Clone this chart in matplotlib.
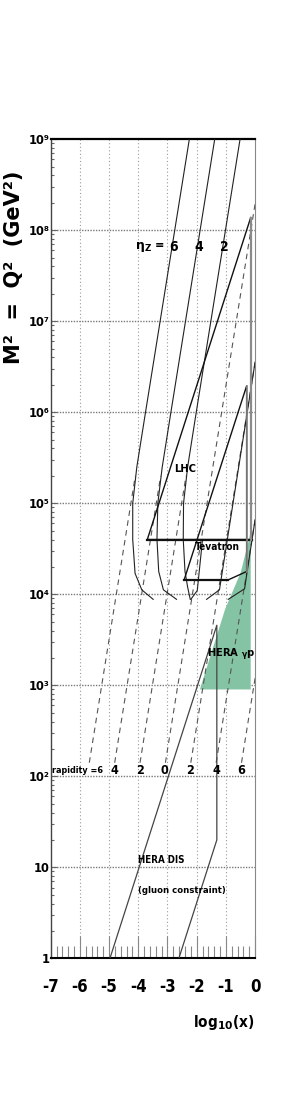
import os
import matplotlib
matplotlib.use("Agg")
import matplotlib.pyplot as plt
import matplotlib.font_manager as fm
from matplotlib.font_manager import FontProperties
from matplotlib.ticker import FixedLocator, NullFormatter, LogLocator

# ---------------- pick a narrow / condensed bold font if one is installed ----------------
def _pick_narrow():
    best = None
    for f in fm.fontManager.ttflist:
        base = os.path.basename(f.fname).lower()
        nm = f.name.lower()
        st = str(f.stretch).lower()
        narrow = ('narrow' in base or 'condensed' in base or 'narrow' in nm
                  or 'condensed' in nm or 'condensed' in st)
        if not narrow or 'italic' in base or 'oblique' in base:
            continue
        try:
            w = int(f.weight)
        except Exception:
            w = 700 if 'bold' in str(f.weight).lower() else 400
        score = 0 if w >= 600 else 1
        if 'liberation' in nm:
            score -= 2
        if best is None or score < best[0]:
            best = (score, f.name, f.stretch)
    return best

_nb = _pick_narrow()
if _nb is not None:
    FAM = [_nb[1], 'DejaVu Sans']
    STRETCH = _nb[2] if not str(_nb[2]).isdigit() else int(_nb[2])
    SF = 1.0
else:
    FAM = ['Liberation Sans', 'DejaVu Sans']
    STRETCH = 'normal'
    SF = 0.84


def fp(size):
    return FontProperties(family=FAM, weight='bold', stretch=STRETCH, size=size * SF)


plt.rcParams['mathtext.fontset'] = 'dejavusans'
plt.rcParams['mathtext.default'] = 'bf'

# ---------------- data (log10(x), M^2 in GeV^2) ----------------
x_ticks = [-7, -6, -5, -4, -3, -2, -1, 0]
x_tick_labels = ["-7", "-6", "-5", "-4", "-3", "-2", "-1", "0"]
y_ticks = [1, 10, 1e2, 1e3, 1e4, 1e5, 1e6, 1e7, 1e8, 1e9]
y_tick_labels = ["1", "10", "10²", "10³", "10⁴", "10⁵", "10⁶", "10⁷", "10⁸", "10⁹"]

# LHC rapidity lines (dashed): start / end points
rap_labels = ["6", "4", "2", "0", "2", "4", "6"]
rap_x0 = [-5.677, -4.808, -3.940, -3.071, -2.202, -1.334, -0.465]
rap_m0 = [141, 141, 141, 141, 141, 141, 141]
rap_x1 = [-4.102, -3.233, -2.365, 0.0, 0.0, 0.0, 0.0]
rap_m1 = [2.0e5, 2.0e5, 2.0e5, 1.95e8, 3.55e6, 6.6e4, 1.2e3]
rap_label_x = [-5.72, -4.83, -3.94, -3.11, -2.23, -1.34, -0.49]

# eta_Z curves (solid)
etaA_x = [-2.252, -3.752, -4.05, -4.19, -4.19, -4.11, -3.88, -3.49]
etaA_m = [1e9, 1e6, 2.5e5, 1e5, 4e4, 1.7e4, 1.12e4, 8.8e3]
etaB_x = [-1.383, -2.883, -3.18, -3.33, -3.36, -3.30, -3.14, -2.69]
etaB_m = [1e9, 1e6, 2.5e5, 1e5, 4e4, 1.78e4, 1.12e4, 8.8e3]
etaC_x = [-0.515, -2.015, -2.31, -2.45, -2.46, -2.40, -2.31, -2.22]
etaC_m = [1e9, 1e6, 2.5e5, 1e5, 4e4, 1.78e4, 1.2e4, 8.8e3]
etaD_x = [-2.20, -1.98, -1.80]
etaD_m = [8.8e3, 1.1e4, 4.0e4]
etaE_x = [-1.66, -1.22, 0.0]
etaE_m = [8.8e3, 1.12e4, 3.55e6]
etaF_x = [-0.92, -0.36, 0.0]
etaF_m = [8.8e3, 1.15e4, 6.6e4]
eta_label_x = [-2.80, -1.92, -1.065]
eta_label_text = ["6", "4", "2"]

# LHC region
lhc_x = [-0.12, -3.69, -0.15]
lhc_m = [4.0e4, 4.0e4, 1.38e8]
lhc_vert_x = [-0.15, -0.15]
lhc_vert_m = [4.0e4, 1.38e8]

# Tevatron region
tev_x = [-2.43, -0.92, -0.29, -0.29, -2.43]
tev_m = [1.44e4, 1.44e4, 1.78e4, 1.95e6, 1.44e4]

# HERA gamma p region (filled)
hgp_x = [-1.89, -0.15, -0.15, -0.49, -1.03, -1.89]
hgp_m = [900, 900, 4.8e4, 1.74e4, 6.8e3, 900]

# HERA DIS region
hdis_x = [-4.97, -1.31, -1.31, -2.61]
hdis_m = [1, 4.57e3, 20, 1]

# ---------------- figure ----------------
fig = plt.figure(figsize=(2.98, 11.0), dpi=100)
ax = fig.add_axes([0.170, 0.1288, 0.686, 0.7446])
ax.set_xlim(-7, 0)
ax.set_yscale('log')
ax.set_ylim(1, 1e9)

# grid
for xv in x_ticks[1:-1]:
    ax.axvline(xv, color='#9a9a9a', lw=0.8, ls=(0, (1, 2.2)), zorder=1)
for yv in y_ticks[1:-1]:
    ax.axhline(yv, color='#7a7a7a', lw=1.0, ls=(0, (1, 1)), zorder=1)

# HERA gamma p
ax.fill(hgp_x, hgp_m, color='#84c4a4', lw=0, zorder=2)

# rapidity lines
for i in range(len(rap_x0)):
    ax.plot([rap_x0[i], rap_x1[i]], [rap_m0[i], rap_m1[i]], color='#555555',
            lw=0.8, ls=(0, (5, 4)), zorder=3)

# eta curves
for cx, cm in [(etaA_x, etaA_m), (etaB_x, etaB_m), (etaC_x, etaC_m),
               (etaD_x, etaD_m), (etaE_x, etaE_m), (etaF_x, etaF_m)]:
    ax.plot(cx, cm, color='#222222', lw=0.8, zorder=4)

# regions
ax.plot(lhc_x, lhc_m, color='#111111', lw=1.0, zorder=4)
ax.plot(lhc_x[:2], lhc_m[:2], color='#111111', lw=1.6, zorder=4)
ax.plot(lhc_vert_x, lhc_vert_m, color='#8a8a8a', lw=1.6, zorder=4)
ax.plot(tev_x, tev_m, color='#111111', lw=1.0, zorder=4)
ax.plot(tev_x[:2], tev_m[:2], color='#111111', lw=1.6, zorder=4)
ax.plot(tev_x[2:4], tev_m[2:4], color='#8a8a8a', lw=1.2, zorder=4)
ax.plot(hdis_x, hdis_m, color='#444444', lw=0.9, zorder=4)

# texts
ax.text(-3.6, 10**7.82, r"$\eta_{Z}$ =", fontproperties=fp(9), ha='center', va='center', zorder=6)
for lx, t in zip(eta_label_x, eta_label_text):
    ax.text(lx, 10**7.82, t, fontproperties=fp(10), ha='center', va='center', zorder=6)
ax.text(-2.41, 10**5.38, "LHC", fontproperties=fp(8), ha='center', va='center', zorder=6)
ax.text(-1.30, 10**4.52, "Tevatron", fontproperties=fp(7.3), ha='center', va='center', zorder=6)
ax.text(-0.83, 10**3.33, r"HERA $_{\gamma}$p", fontproperties=fp(8), ha='center', va='center', zorder=6)
ax.text(-6.97, 10**2.06, "rapidity =6", fontproperties=fp(6.5), ha='left', va='center', zorder=6)
for lx, t in zip(rap_label_x[1:], rap_labels[1:]):
    ax.text(lx, 10**2.06, t, fontproperties=fp(9), ha='center', va='center', zorder=6)
ax.text(-4.0, 10**1.075, "HERA DIS", fontproperties=fp(7), ha='left', va='center', zorder=6)
ax.text(-4.0, 10**0.75, "(gluon constraint)", fontproperties=fp(6.8), ha='left', va='center', zorder=6)

# ticks
ax.xaxis.set_major_locator(FixedLocator(x_ticks))
ax.set_xticklabels(x_tick_labels)
for t in ax.get_xticklabels():
    t.set_fontproperties(fp(12))
ax.xaxis.set_minor_locator(FixedLocator([v / 5.0 for v in range(-35, 1) if v % 5 != 0]))
ax.tick_params(axis='x', which='major', direction='in', length=16, width=0.8,
               color='#888888', pad=14, top=False)
ax.tick_params(axis='x', which='minor', direction='in', length=8.5, width=0.8,
               color='#888888', top=False)
ax.yaxis.set_major_locator(FixedLocator(y_ticks))
ax.set_yticklabels(y_tick_labels)
for t in ax.get_yticklabels():
    t.set_fontproperties(fp(9.2))
ax.yaxis.set_minor_locator(LogLocator(base=10, subs=range(2, 10), numticks=20))
ax.yaxis.set_minor_formatter(NullFormatter())
ax.tick_params(axis='y', which='major', direction='in', length=4.5, width=0.8,
               color='#666666', pad=1, right=False)
ax.tick_params(axis='y', which='minor', direction='in', length=2.5, width=0.8,
               color='#666666', right=False)

ax.spines['left'].set_color('#444444')
ax.spines['left'].set_linewidth(1.0)
ax.spines['bottom'].set_color('#000000')
ax.spines['bottom'].set_linewidth(1.5)
ax.spines['top'].set_color('#000000')
ax.spines['top'].set_linewidth(1.6)
ax.spines['right'].set_color('#888888')
ax.spines['right'].set_linewidth(0.8)

fig.text(14.3 / 298, 1 - 267 / 1100, "M²  =  Q²  (GeV²)", rotation=90, ha='center', va='center',
         fontsize=15, fontweight='bold', family=['DejaVu Sans'])
fig.text(255 / 298, 1 - 1022 / 1100, r"log$_{10}$(x)", ha='right', va='center',
         fontproperties=fp(11))

fig.savefig("out.png", dpi=100)
